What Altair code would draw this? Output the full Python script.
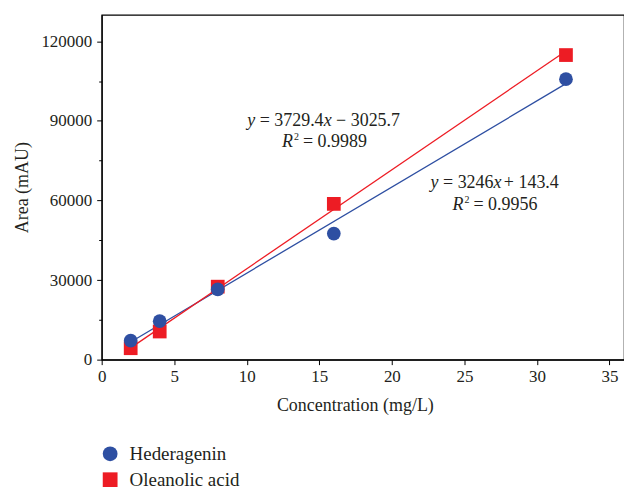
import altair as alt
import pandas as pd

# ---- data ----
conc = [2, 4, 8, 16, 32]
hederagenin = [7200, 14500, 26500, 47500, 105700]
oleanolic = [4300, 10600, 27500, 58700, 114800]

fit_x = [2, 32]
hed_fit = [6635, 104015]
ole_fit = [4433, 116315]

series_names = ["Hederagenin", "Oleanolic acid"]
colors = ["#2E4FA2", "#ED1C24"]

# annotation anchors (data coords)
ann1_xy = (10.03, 87900)
ann2_xy = (12.43, 80000)
ann3_xy = (22.67, 64600)
ann4_xy = (24.18, 56350)

FONT = "Liberation Serif"
TXT = "#231F20"

pts = pd.DataFrame(
    {"conc": conc * 2,
     "area": oleanolic + hederagenin,
     "series": ["Oleanolic acid"] * 5 + ["Hederagenin"] * 5}
)
hed_line = pd.DataFrame({"conc": fit_x, "area": hed_fit})
ole_line = pd.DataFrame({"conc": fit_x, "area": ole_fit})

xscale = alt.Scale(domain=[0, 36], nice=False)
yscale = alt.Scale(domain=[0, 130000], nice=False)

xaxis = alt.Axis(
    values=[i * 2.5 for i in range(15)],
    labelExpr="datum.value % 5 === 0 ? datum.label : ''",
    tickSize={"condition": {"test": "datum.value % 5 === 0", "value": 5}, "value": 3},
    title="Concentration (mg/L)", labelFlush=False,
    grid=False, domainColor="black", tickColor="black", domainWidth=1.2,
    labelFont=FONT, labelFontSize=17, labelColor=TXT, labelPadding=4,
    titleFont=FONT, titleFontSize=18, titleFontWeight="normal", titleColor=TXT,
    titlePadding=12, titleX=254,
)
yaxis = alt.Axis(
    values=[i * 15000 for i in range(9)],
    format="d",
    labelExpr="datum.value % 30000 === 0 ? datum.label : ''",
    tickSize={"condition": {"test": "datum.value % 30000 === 0", "value": 5}, "value": 3},
    title="Area (mAU)",
    grid=False, domainColor="black", tickColor="black", domainWidth=1.2,
    labelFont=FONT, labelFontSize=17, labelColor=TXT, labelPadding=5,
    titleFont=FONT, titleFontSize=18, titleFontWeight="normal", titleColor=TXT,
    titlePadding=9,
)

legend_cfg = dict(
    orient="none", legendX=-1, legendY=431,
    labelFont=FONT, labelFontSize=19, labelColor=TXT,
    symbolSize=220, rowPadding=6, padding=0, labelOffset=10,
)


def fit_line(df, col):
    return alt.Chart(df).mark_line(strokeWidth=1.3, color=col).encode(
        x=alt.X("conc:Q", scale=xscale, axis=xaxis),
        y=alt.Y("area:Q", scale=yscale, axis=yaxis),
    )


points = alt.Chart(pts).mark_point(filled=True, size=190, opacity=1).encode(
    x=alt.X("conc:Q", scale=xscale, axis=xaxis),
    y=alt.Y("area:Q", scale=yscale, axis=yaxis),
    color=alt.Color("series:N", title="", scale=alt.Scale(domain=series_names, range=colors),
                    legend=alt.Legend(**legend_cfg)),
    shape=alt.Shape("series:N", title="", scale=alt.Scale(domain=series_names, range=["circle", "square"]),
                    legend=alt.Legend(**legend_cfg)),
)


def piece(xy, text, dx, italic=False, size=18, dy=0):
    df = pd.DataFrame({"x": [xy[0]], "y": [xy[1]], "t": [text]})
    return alt.Chart(df).mark_text(
        align="left", baseline="alphabetic", font=FONT, fontSize=size,
        fontStyle="italic" if italic else "normal", color=TXT, dx=dx, dy=dy,
    ).encode(x=alt.X("x:Q", scale=xscale), y=alt.Y("y:Q", scale=yscale), text="t:N")


texts = [
    piece(ann1_xy, "y", 0, True),
    piece(ann1_xy, "= 3729.4", 12.5),
    piece(ann1_xy, "x", 76.7, True),
    piece(ann1_xy, "\u2212 3025.7", 89.2),
    piece(ann2_xy, "R", 0, True),
    piece(ann2_xy, "2", 12, size=10, dy=-7),
    piece(ann2_xy, "= 0.9989", 21),
    piece(ann3_xy, "y", 0, True),
    piece(ann3_xy, "= 3246", 12.5),
    piece(ann3_xy, "x", 63.2, True),
    piece(ann3_xy, "+ 143.4", 73.5),
    piece(ann4_xy, "R", 0, True),
    piece(ann4_xy, "2", 12, size=10, dy=-7),
    piece(ann4_xy, "= 0.9956", 21),
]

chart = alt.layer(fit_line(hed_line, colors[0]), fit_line(ole_line, colors[1]), points, *texts).properties(
    width=524, height=346,
    padding={"left": 102, "top": 14, "right": 0, "bottom": 127},
    autosize=alt.AutoSizeParams(type="none"),
    background="white",
).configure_view(stroke="black", strokeWidth=1.2)

chart.save("out.html", embed_options={"renderer": "svg", "actions": False})
